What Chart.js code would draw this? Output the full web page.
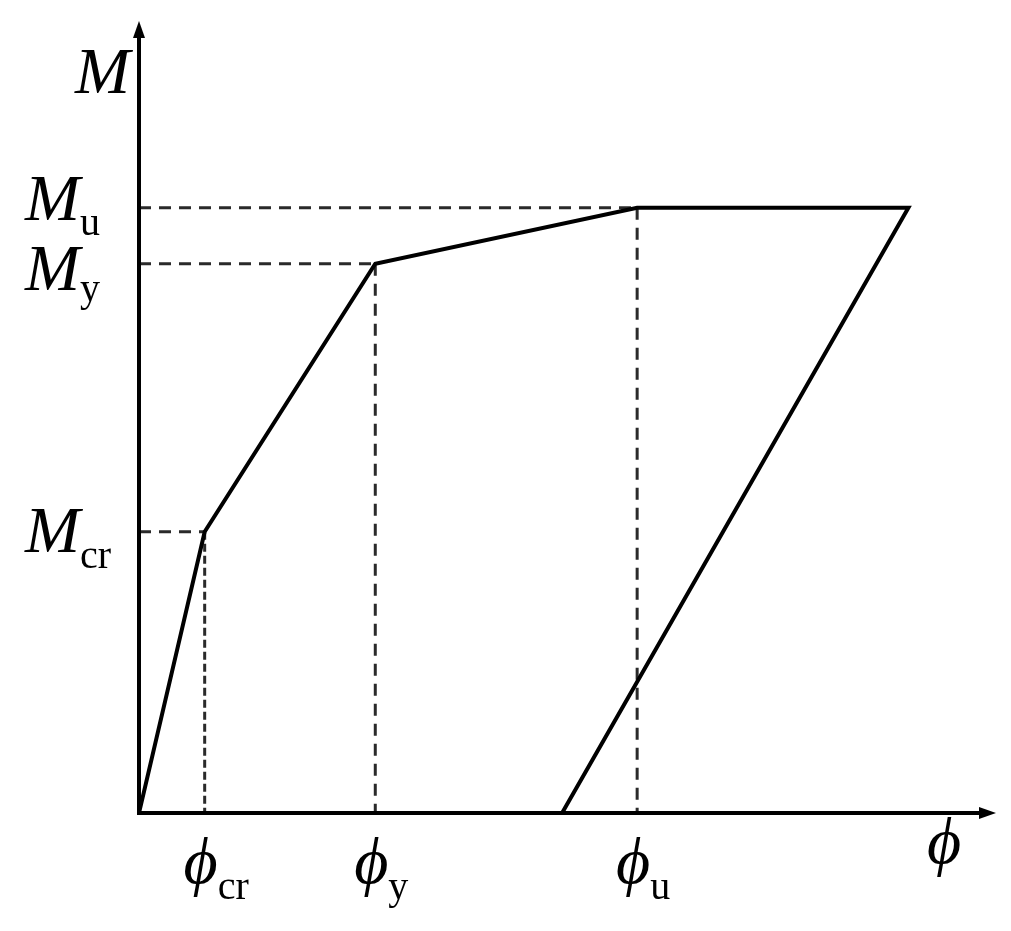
<!DOCTYPE html>
<html>
<head>
<meta charset="utf-8">
<script src="https://cdn.jsdelivr.net/npm/chart.js@4/dist/chart.umd.min.js"></script>
<style>
  body { margin: 0; background: #fff; }
  canvas { display: block; }
</style>
</head>
<body>
<canvas id="js--chart" width="1011" height="931"></canvas>
<script>
// curvature (phi) and moment (M) of the idealised M-phi curve
const phiPoints = [0, 7.7, 27.7, 58.4, 90.2, 49.6];
const momentPoints = [0, 35.7, 69.7, 76.8, 76.8, 0];

// characteristic points: cracking, yield, ultimate
const keyNames = ["cr", "y", "u"];
const keyPhi = [7.7, 27.7, 58.4];
const keyMoment = [35.7, 69.7, 76.8];

const curve = phiPoints.map(function (p, i) {
    return { x: p, y: momentPoints[i] };
});

// horizontal guides from the M axis to each point
const hGuides = keyNames.map(function (name, i) {
    return {
        label: "h " + name,
        data: [{ x: 0, y: keyMoment[i] }, { x: keyPhi[i], y: keyMoment[i] }],
        showLine: true,
        borderColor: "#2a2a2a",
        borderWidth: 3,
        borderDash: [12, 8],
        pointRadius: 0
    };
});

// vertical guides from each point down to the phi axis
const vGuides = keyNames.map(function (name, i) {
    return {
        label: "v " + name,
        data: [{ x: keyPhi[i], y: keyMoment[i] }, { x: keyPhi[i], y: 0 }],
        showLine: true,
        borderColor: "#2a2a2a",
        borderWidth: 3,
        borderDash: i === 0 ? [8, 4] : [12, 8],
        pointRadius: 0
    };
});

function drawArrow(ctx, x, y, dir) {
    ctx.beginPath();
    if (dir === "up") {
        ctx.moveTo(x, y - 4);
        ctx.lineTo(x - 6, y + 13);
        ctx.lineTo(x + 6, y + 13);
    } else {
        ctx.moveTo(x + 4, y);
        ctx.lineTo(x - 13, y - 6);
        ctx.lineTo(x - 13, y + 6);
    }
    ctx.closePath();
    ctx.fill();
}

function drawSub(ctx, main, sub, x, y, subDy, align) {
    ctx.font = "italic 66px 'Liberation Serif'";
    const w1 = ctx.measureText(main).width;
    ctx.font = "40px 'Liberation Serif'";
    const w2 = ctx.measureText(sub).width;
    let left = x;
    if (align === "center") left = x - w1 / 2;
    if (align === "right") left = x - w1 - w2;
    ctx.font = "italic 66px 'Liberation Serif'";
    ctx.fillText(main, left, y);
    ctx.font = "40px 'Liberation Serif'";
    ctx.fillText(sub, left + w1, y + subDy);
}

const axesPlugin = {
    id: "axesPlugin",
    afterDatasetsDraw: function (chart) {
        const ctx = chart.ctx;
        const a = chart.chartArea;
        const xs = chart.scales.x;
        const ys = chart.scales.y;
        ctx.save();
        ctx.strokeStyle = "#000";
        ctx.fillStyle = "#000";
        ctx.lineWidth = 4;
        ctx.beginPath();
        ctx.moveTo(a.left, a.top + 6);
        ctx.lineTo(a.left, a.bottom);
        ctx.lineTo(a.right - 6, a.bottom);
        ctx.stroke();
        drawArrow(ctx, a.left, a.top, "up");
        drawArrow(ctx, a.right, a.bottom, "right");

        ctx.textBaseline = "alphabetic";
        ctx.textAlign = "left";
        // axis titles
        ctx.font = "italic 66px 'Liberation Serif'";
        const mw = ctx.measureText("M").width;
        ctx.fillText("M", a.left - 9 - mw, a.top + 68);
        ctx.fillText("\u03D5", a.right - 65, a.bottom + 50);

        // moment labels
        const mDy = [20, 26, 12];
        const subDy = [16, 11, 15];
        keyNames.forEach(function (name, i) {
            const py = ys.getPixelForValue(keyMoment[i]);
            drawSub(ctx, "M", name, 25, py + mDy[i], subDy[i], "left");
        });
        // curvature labels
        keyNames.forEach(function (name, i) {
            const px = xs.getPixelForValue(keyPhi[i]);
            drawSub(ctx, "\u03D5", name, px - 4, a.bottom + 70, 16, "center");
        });
        ctx.restore();
    }
};

const config = {
    type: "scatter",
    data: {
        datasets: [
            {
                label: "M-phi",
                data: curve,
                showLine: true,
                borderColor: "#000",
                borderWidth: 4,
                pointRadius: 0
            }
        ].concat(hGuides, vGuides)
    },
    options: {
        responsive: false,
        animation: false,
        layout: { padding: { left: 139, right: 19, top: 25, bottom: 118 } },
        plugins: { legend: { display: false }, tooltip: { enabled: false } },
        scales: {
            x: { display: false, min: 0, max: 100 },
            y: { display: false, min: 0, max: 100 }
        }
    },
    plugins: [axesPlugin]
};

new Chart(document.getElementById("js--chart"), config);
</script>
</body>
</html>
